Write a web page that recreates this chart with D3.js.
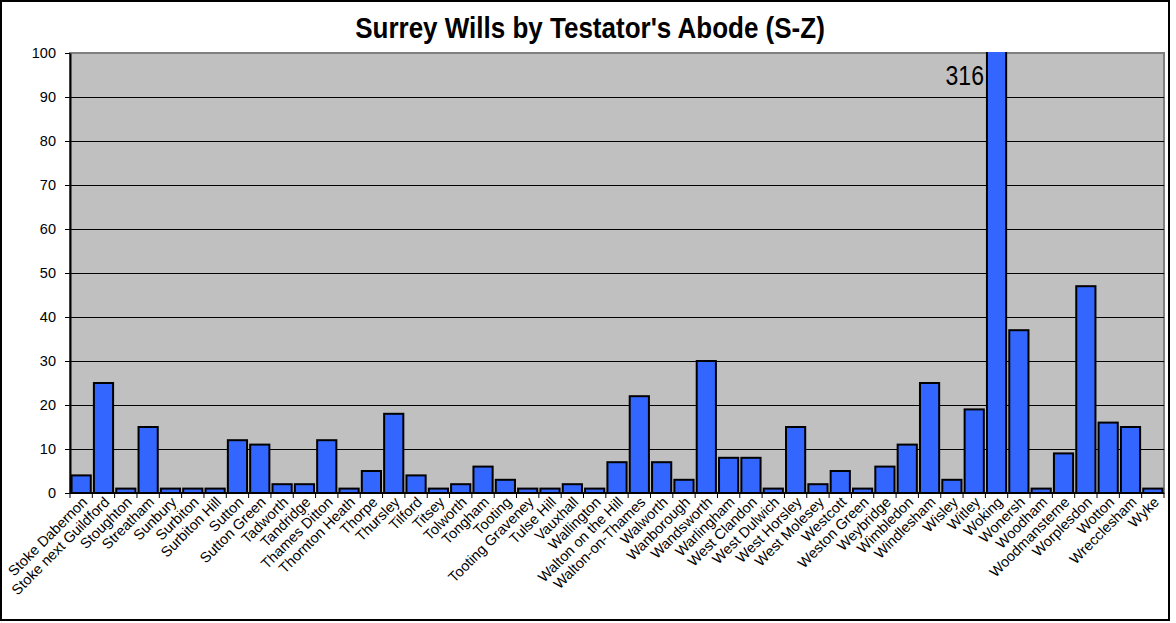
<!DOCTYPE html>
<html>
<head>
<meta charset="utf-8">
<script src="https://cdnjs.cloudflare.com/ajax/libs/d3/7.8.5/d3.min.js"></script>
<style>
  body { margin: 0; background: #fff; }
  text { font-family: "Liberation Sans", Arial, sans-serif; }
</style>
</head>
<body>
<div id="chart"></div>
<script>
var width = 1176, height = 623;

// data
var places = ["Stoke Dabernon", "Stoke next Guildford", "Stoughton", "Streatham", "Sunbury",
  "Surbiton", "Surbiton Hill", "Sutton", "Sutton Green", "Tadworth", "Tandridge", "Thames Ditton",
  "Thornton Heath", "Thorpe", "Thursley", "Tilford", "Titsey", "Tolworth", "Tongham", "Tooting",
  "Tooting Graveney", "Tulse Hill", "Vauxhall", "Wallington", "Walton on the Hill", "Walton-on-Thames",
  "Walworth", "Wanborough", "Wandsworth", "Warlingham", "West Clandon", "West Dulwich", "West Horsley",
  "West Molesey", "Westcott", "Weston Green", "Weybridge", "Wimbledon", "Windlesham", "Wisley",
  "Witley", "Woking", "Wonersh", "Woodham", "Woodmansterne", "Worplesdon", "Wotton", "Wrecclesham", "Wyke"];
var wills = [4, 25, 1, 15, 1, 1, 1, 12, 11, 2, 2, 12, 1, 5, 18, 4, 1, 2, 6, 3, 1, 1, 2, 1, 7, 22,
  7, 3, 30, 8, 8, 1, 15, 2, 5, 1, 6, 11, 25, 3, 19, 316, 37, 1, 9, 47, 16, 15, 1];
var yTicks = [0, 10, 20, 30, 40, 50, 60, 70, 80, 90, 100];
var yMax = 100;

var plot = {left: 70, top: 53, right: 1164, bottom: 493};

var svg = d3.select("#chart").append("svg")
  .attr("width", width)
  .attr("height", height);

// outer frame
svg.append("rect")
  .attr("x", 1).attr("y", 1)
  .attr("width", 1168).attr("height", 619)
  .attr("fill", "#fff")
  .attr("stroke", "#000")
  .attr("stroke-width", 2);

svg.append("text")
  .attr("transform", "translate(590,38) scale(1,1.1)")
  .attr("text-anchor", "middle")
  .attr("font-size", 26)
  .attr("font-weight", "bold")
  .text("Surrey Wills by Testator's Abode (S-Z)");

var x = d3.scaleBand()
  .domain(places)
  .range([plot.left, plot.right])
  .paddingInner(0.14)
  .paddingOuter(0.07);

var y = d3.scaleLinear()
  .domain([0, yMax])
  .range([plot.bottom, plot.top]);

svg.append("rect")
  .attr("x", plot.left).attr("y", plot.top)
  .attr("width", plot.right - plot.left)
  .attr("height", plot.bottom - plot.top)
  .attr("fill", "#c0c0c0")
  .attr("stroke", "#808080")
  .attr("stroke-width", 2);

// gridlines
svg.append("g").selectAll("line")
  .data(yTicks.filter(function(d) { return d > 0 && d < yMax; }))
  .join("line")
  .attr("x1", plot.left).attr("x2", plot.right)
  .attr("y1", function(d) { return y(d); })
  .attr("y2", function(d) { return y(d); })
  .attr("stroke", "#000")
  .attr("stroke-width", 1)
  .attr("shape-rendering", "crispEdges");

// bars, clipped at the top of the axis
svg.append("clipPath").attr("id", "clip")
  .append("rect")
  .attr("x", plot.left).attr("y", plot.top - 1)
  .attr("width", plot.right - plot.left)
  .attr("height", plot.bottom - plot.top + 2);

svg.append("g").attr("clip-path", "url(#clip)")
  .selectAll("rect")
  .data(places)
  .join("rect")
  .attr("x", function(d) { return x(d); })
  .attr("width", x.bandwidth())
  .attr("y", function(d, i) { return y(Math.min(wills[i], yMax + 1)); })
  .attr("height", function(d, i) { return plot.bottom - y(Math.min(wills[i], yMax + 1)); })
  .attr("fill", "#3366ff")
  .attr("stroke", "#000")
  .attr("stroke-width", 2);

// label for the bar that runs off the scale
places.forEach(function(d, i) {
  if (wills[i] > yMax) {
    svg.append("text")
      .attr("transform", "translate(" + (x(d) - 3) + ",85) scale(1,1.2)")
      .attr("text-anchor", "end")
      .attr("font-size", 23)
      .text(wills[i]);
  }
});

// y axis
var yAxis = svg.append("g")
  .attr("transform", "translate(" + plot.left + ",0)")
  .call(d3.axisLeft(y).tickValues(yTicks).tickSize(5).tickPadding(9).tickSizeOuter(0));
yAxis.select(".domain").attr("stroke", "#000").attr("stroke-width", 2);
yAxis.selectAll(".tick line").attr("stroke", "#000");
yAxis.selectAll("text").attr("font-size", 14.5).attr("font-family", "Liberation Sans, Arial, sans-serif").attr("fill", "#000");

// x axis: ticks between categories
var xg = svg.append("g");
xg.append("line")
  .attr("x1", plot.left).attr("x2", plot.right)
  .attr("y1", plot.bottom).attr("y2", plot.bottom)
  .attr("stroke", "#000").attr("stroke-width", 2);
xg.selectAll(".sep")
  .data(d3.range(places.length + 1))
  .join("line")
  .attr("x1", function(i) { return plot.left + i * (plot.right - plot.left) / places.length; })
  .attr("x2", function(i) { return plot.left + i * (plot.right - plot.left) / places.length; })
  .attr("y1", plot.bottom).attr("y2", plot.bottom + 5)
  .attr("stroke", "#000").attr("stroke-width", 1);

xg.selectAll(".lbl")
  .data(places)
  .join("text")
  .attr("transform", function(d) {
    var cx = x(d) + x.bandwidth() / 2 + 7;
    return "translate(" + cx + "," + (plot.bottom + 10) + ") rotate(-45)";
  })
  .attr("text-anchor", "end")
  .attr("font-size", 14.5)
  .text(function(d) { return d; });
</script>
</body>
</html>
